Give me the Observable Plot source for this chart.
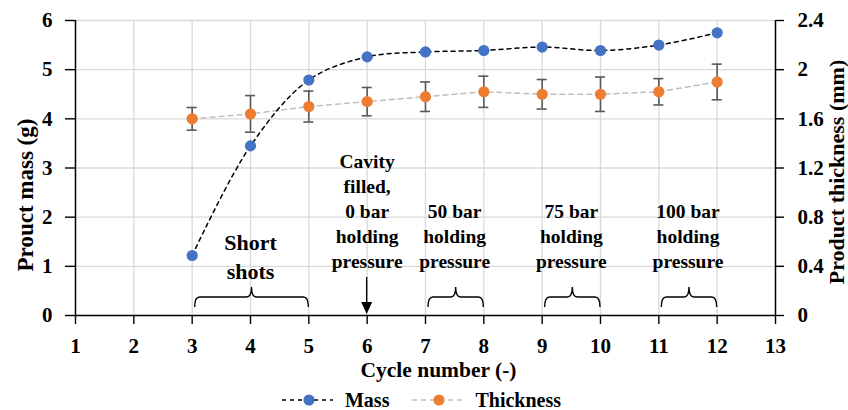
<!DOCTYPE html>
<html><head><meta charset="utf-8">
<script src="https://cdn.jsdelivr.net/npm/d3@7"></script>
<script src="https://cdn.jsdelivr.net/npm/@observablehq/plot@0.6"></script>
<style>
html,body{margin:0;padding:0;background:#fff;overflow:hidden;}
#legend{height:32px;display:flex;align-items:center;justify-content:center;padding-left:16px;
  font-family:'Liberation Serif',serif;font-weight:bold;font-size:20px;line-height:16px;color:#000;}
#legend .item{display:flex;align-items:center;}
#legend .item span{margin-left:12px;margin-right:22px;font-family:'Liberation Serif',serif;}
</style></head>
<body><div id="chart"></div><div id="legend"></div>
<script>
// ---- data ----
const cycles = [3, 4, 5, 6, 7, 8, 9, 10, 11, 12];
const mass = [1.22, 3.45, 4.79, 5.26, 5.36, 5.39, 5.46, 5.39, 5.50, 5.75];           // g
const thickness = [1.60, 1.64, 1.70, 1.74, 1.78, 1.82, 1.80, 1.80, 1.82, 1.90];      // mm
const thicknessErr = [0.092, 0.149, 0.126, 0.115, 0.12, 0.127, 0.12, 0.14, 0.107, 0.145];
const xTicks = [1, 2, 3, 4, 5, 6, 7, 8, 9, 10, 11, 12, 13];
const yLeftTicks = [0, 1, 2, 3, 4, 5, 6];
const yRightTicks = [0, 0.4, 0.8, 1.2, 1.6, 2, 2.4];
const groupLabels = ["Short\nshots", "Cavity\nfilled,\n0 bar\nholding\npressure", "50 bar\nholding\npressure", "75 bar\nholding\npressure", "100 bar\nholding\npressure"];
const groupStart = [3, 6, 7, 9, 11];
const groupEnd = [5, 6, 8, 10, 12];
const seriesNames = ["Mass", "Thickness"];
const seriesColors = ["#4472C4", "#ED7D31"];
const seriesLineColors = ["#000000", "#BFBFBF"];
const xTitle = "Cycle number (-)";
const yLeftTitle = "Prouct mass (g)";
const yRightTitle = "Product thickness (mm)";

// ---- derived tables ----
const RATIO = 6 / 2.4; // right axis -> left axis units
const rows = cycles.map((c, i) => ({cycle: c, mass: mass[i], thick: thickness[i], err: thicknessErr[i]}));
const groups = groupLabels.map((l, i) => ({label: l, start: groupStart[i], end: groupEnd[i], mid: (groupStart[i] + groupEnd[i]) / 2}));
const FONT = "Liberation Serif";
const CAP = 5 / 58.33; // half cap width in x units (~5px)

const bracesMark = (index, {x, y}) => {
  const g = d3.create("svg:g").attr("fill", "none").attr("stroke", "#000").attr("stroke-width", 1.4);
  const y0 = y(0);
  for (const d of groups) {
    if (d.start === d.end) {
      const xm = x(d.start);
      g.append("line").attr("x1", xm).attr("x2", xm).attr("y1", y0 - 38).attr("y2", y0 - 12);
      g.append("path").attr("d", `M${xm - 5.5},${y0 - 13}L${xm + 5.5},${y0 - 13}L${xm},${y0 - 1}Z`)
        .attr("fill", "#000").attr("stroke", "none");
    } else {
      const x1 = x(d.start) + 3, x2 = x(d.end), xm = (x1 + x2) / 2;
      const ye = y0 - 8, yf = y0 - 18, yt = y0 - 28, r = 5;
      g.append("path").attr("d",
        `M${x1},${ye}Q${x1},${yf} ${x1 + r},${yf}L${xm - r},${yf}Q${xm},${yf} ${xm},${yt}` +
        `Q${xm},${yf} ${xm + r},${yf}L${x2 - r},${yf}Q${x2},${yf} ${x2},${ye}`);
    }
  }
  return g.node();
};

const textStyle = {fontFamily: FONT, fontWeight: "bold", fill: "#000"};

const plot = Plot.plot({
  width: 848, height: 384,
  marginLeft: 75, marginRight: 73, marginTop: 20, marginBottom: 69,
  x: {domain: [1, 13]},
  y: {domain: [0, 6]},
  style: {fontFamily: FONT, background: "white", overflow: "visible"},
  marks: [
    Plot.ruleY(yLeftTicks.filter(d => d > 0), {stroke: "#D9D9D9", strokeWidth: 1.3}),
    Plot.ruleX(xTicks.filter(d => d > 1 && d < 13), {stroke: "#D9D9D9", strokeWidth: 1.3}),
    // annotations
    Plot.text(groups.filter(d => d.end - d.start !== 2), {x: "mid", y: 0.956, text: "label", lineAnchor: "bottom",
      lineHeight: 1.29, fontSize: 19.5, ariaLabel: "annot", ...textStyle}),
    Plot.text(groups.filter(d => d.end - d.start === 2), {x: "mid", y: 1.23, text: "label", lineAnchor: "middle",
      lineHeight: 1.32, fontSize: 22, ariaLabel: "annot", ...textStyle}),
    bracesMark,
    // axis lines
    Plot.ruleX([1, 13], {stroke: "#000", strokeWidth: 1.5}),
    Plot.ruleY([0], {stroke: "#000", strokeWidth: 1.5}),
    Plot.axisX(xTicks, {anchor: "bottom", tickSize: 9, tickPadding: 14, fontSize: 21, fontWeight: "bold", strokeWidth: 1.4, label: null}),
    Plot.axisY(yLeftTicks, {anchor: "left", tickSize: 10, tickPadding: 13, fontSize: 21, fontWeight: "bold", strokeWidth: 1.4, label: null}),
    Plot.axisY(yRightTicks, {anchor: "right", y: d => d * RATIO, tickFormat: d => `${d}`, tickSize: 8, tickPadding: 14,
      fontSize: 21, fontWeight: "bold", strokeWidth: 1.4, label: null}),
    // titles
    Plot.text([xTitle], {text: d => d, frameAnchor: "bottom", textAnchor: "middle", lineAnchor: "middle", dx: 13, dy: 55, fontSize: 21.5, ...textStyle}),
    Plot.text([yLeftTitle], {text: d => d, frameAnchor: "left", textAnchor: "middle", lineAnchor: "middle", rotate: -90, dx: -50, dy: 27, fontSize: 23, ...textStyle}),
    Plot.text([yRightTitle], {text: d => d, frameAnchor: "right", textAnchor: "middle", lineAnchor: "middle", rotate: -90, dx: 61, dy: 4, fontSize: 22, ...textStyle}),
    // error bars
    Plot.ruleX(rows, {x: "cycle", y1: d => (d.thick - d.err) * RATIO, y2: d => (d.thick + d.err) * RATIO, stroke: "#595959", strokeWidth: 1.6}),
    Plot.ruleY(rows, {y: d => (d.thick + d.err) * RATIO, x1: d => d.cycle - CAP, x2: d => d.cycle + CAP, stroke: "#595959", strokeWidth: 1.6}),
    Plot.ruleY(rows, {y: d => (d.thick - d.err) * RATIO, x1: d => d.cycle - CAP, x2: d => d.cycle + CAP, stroke: "#595959", strokeWidth: 1.6}),
    // lines
    Plot.line(rows, {x: "cycle", y: d => d.thick * RATIO, stroke: seriesLineColors[1], strokeWidth: 1.5, strokeDasharray: "5,4"}),
    Plot.line(rows, {x: "cycle", y: "mass", stroke: seriesLineColors[0], strokeWidth: 1.5, strokeDasharray: "4,4", curve: "catmull-rom"}),
    // dots
    Plot.dot(rows, {x: "cycle", y: d => d.thick * RATIO, r: 5.6, fill: seriesColors[1], stroke: "none"}),
    Plot.dot(rows, {x: "cycle", y: "mass", r: 5.6, fill: seriesColors[0], stroke: "none"})
  ]
});
document.getElementById("chart").appendChild(plot);

// white boxes behind annotation text (derived from the text bounding boxes)
plot.querySelectorAll('g[aria-label="annot"] text').forEach(t => {
  const b = t.getBBox();
  const r = document.createElementNS("http://www.w3.org/2000/svg", "rect");
  r.setAttribute("x", b.x - 3); r.setAttribute("y", b.y - 2);
  r.setAttribute("width", b.width + 6); r.setAttribute("height", b.height + 4);
  r.setAttribute("fill", "white");
  if (t.getAttribute("transform")) r.setAttribute("transform", t.getAttribute("transform"));
  t.parentNode.insertBefore(r, t);
});

// legend
const legend = d3.select("#legend");
seriesNames.forEach((name, i) => {
  const item = legend.append("div").attr("class", "item");
  const s = item.append("svg").attr("width", 52).attr("height", 14);
  s.append("line").attr("x1", 1).attr("x2", 52).attr("y1", 7).attr("y2", 7)
    .attr("stroke", seriesLineColors[i]).attr("stroke-width", 1.5).attr("stroke-dasharray", i === 0 ? "4,4" : "5,4");
  s.append("circle").attr("cx", 28).attr("cy", 7).attr("r", 5.6).attr("fill", seriesColors[i]);
  item.append("span").text(name).style("font-family", "'Liberation Serif', serif").style("font-weight", "bold");
});
</script>
</body></html>
